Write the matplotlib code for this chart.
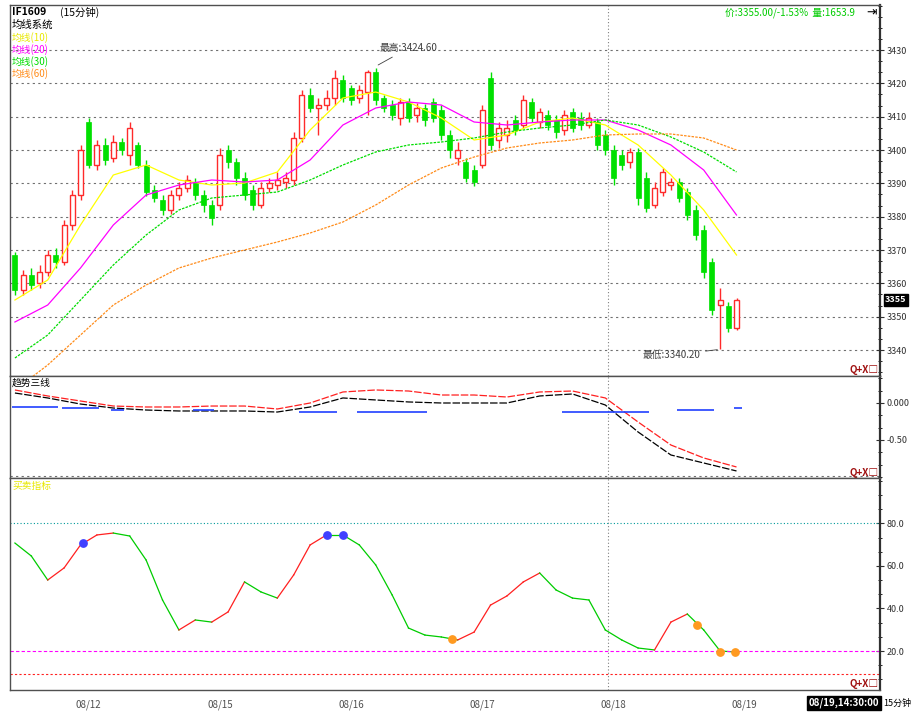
import numpy as np
import matplotlib
matplotlib.use("Agg")
from matplotlib import pyplot as plt
from matplotlib.ticker import AutoMinorLocator
from matplotlib.transforms import blended_transform_factory

plt.rcParams['font.family'] = ['Noto Sans CJK SC', 'DejaVu Sans']

# ---- candles (15 min bars) ----
opens = [3368.5, 3358.0, 3362.5, 3360.1, 3363.4, 3368.5, 3366.4, 3377.5, 3386.5, 3408.4,
         3395.5, 3401.5, 3397.6, 3402.4, 3398.5, 3401.5, 3395.5, 3388.0, 3385.0, 3382.0,
         3386.5, 3388.6, 3390.4, 3386.5, 3383.5, 3383.5, 3400.0, 3396.4, 3391.6, 3388.0,
         3383.5, 3388.6, 3389.5, 3390.4, 3391.0, 3403.6, 3416.5, 3412.6, 3413.5, 3415.6,
         3421.0, 3418.6, 3415.6, 3417.4, 3423.4, 3415.6, 3413.5, 3409.6, 3414.4, 3410.5,
         3412.6, 3414.4, 3412.0, 3404.5, 3397.6, 3396.4, 3394.0, 3395.5, 3421.6, 3403.0,
         3404.5, 3409.0, 3407.5, 3414.4, 3408.4, 3410.5, 3409.0, 3406.0, 3411.4, 3409.6,
         3407.5, 3408.4, 3404.5, 3400.0, 3398.5, 3396.4, 3399.4, 3391.6, 3383.5, 3387.4,
         3389.5, 3390.4, 3387.4, 3382.0, 3376.0, 3366.4, 3353.5, 3353.2, 3346.6]
closes = [3358.0, 3362.5, 3359.5, 3363.4, 3368.5, 3366.4, 3377.5, 3386.5, 3400.0, 3395.5,
          3401.5, 3397.0, 3402.4, 3400.0, 3406.6, 3395.5, 3387.4, 3385.6, 3382.0, 3386.5,
          3388.6, 3391.0, 3386.5, 3383.5, 3379.6, 3398.5, 3396.4, 3391.6, 3386.5, 3383.5,
          3388.6, 3390.1, 3391.0, 3391.6, 3403.6, 3416.5, 3412.6, 3413.5, 3415.6, 3421.6,
          3415.6, 3415.0, 3418.0, 3423.4, 3415.0, 3412.6, 3410.5, 3414.4, 3409.6, 3412.6,
          3409.0, 3409.6, 3404.5, 3400.0, 3400.0, 3391.6, 3390.4, 3412.0, 3401.5, 3406.6,
          3406.6, 3406.0, 3415.0, 3409.6, 3411.4, 3407.5, 3405.4, 3410.5, 3406.6, 3407.5,
          3409.6, 3401.5, 3400.0, 3391.6, 3395.5, 3399.4, 3385.6, 3382.6, 3388.6, 3393.4,
          3390.4, 3385.6, 3380.5, 3374.5, 3363.4, 3352.0, 3355.0, 3346.6, 3355.0]
highs = [3369.4, 3364.0, 3364.6, 3365.5, 3370.0, 3370.6, 3379.0, 3388.0, 3401.5, 3409.6,
         3403.0, 3403.6, 3404.5, 3403.6, 3408.4, 3402.4, 3397.0, 3389.5, 3386.5, 3388.0,
         3390.4, 3392.5, 3391.6, 3388.0, 3385.0, 3400.6, 3401.5, 3397.6, 3393.4, 3389.5,
         3390.4, 3391.6, 3393.4, 3393.4, 3405.4, 3418.0, 3418.6, 3415.6, 3418.0, 3424.0,
         3422.5, 3419.5, 3419.5, 3424.0, 3424.6, 3416.5, 3415.0, 3415.6, 3415.6, 3414.1,
         3413.8, 3415.6, 3413.5, 3406.0, 3402.4, 3397.6, 3395.5, 3413.5, 3423.4, 3408.4,
         3409.0, 3410.5, 3416.5, 3415.6, 3412.6, 3412.0, 3410.5, 3412.0, 3412.6, 3411.4,
         3411.4, 3409.6, 3406.0, 3401.5, 3400.0, 3400.6, 3400.6, 3393.4, 3390.4, 3394.6,
         3391.6, 3391.6, 3388.6, 3383.5, 3377.5, 3367.6, 3358.6, 3354.4, 3355.6]
lows = [3356.5, 3356.5, 3358.0, 3358.6, 3362.2, 3364.6, 3365.5, 3376.0, 3385.0, 3394.6,
        3394.0, 3395.5, 3396.4, 3398.5, 3395.5, 3394.6, 3386.2, 3384.4, 3380.5, 3380.8,
        3385.0, 3387.4, 3385.0, 3381.4, 3377.5, 3382.0, 3394.6, 3389.5, 3385.0, 3382.0,
        3382.6, 3387.4, 3388.0, 3388.6, 3389.5, 3402.4, 3411.4, 3404.5, 3412.0, 3413.5,
        3414.4, 3413.5, 3414.1, 3410.5, 3413.5, 3411.4, 3409.0, 3407.5, 3408.4, 3408.4,
        3407.2, 3408.4, 3403.0, 3397.6, 3395.5, 3390.4, 3389.2, 3394.6, 3400.0, 3400.6,
        3402.4, 3404.5, 3406.6, 3408.4, 3406.6, 3406.0, 3403.6, 3404.5, 3405.4, 3406.0,
        3406.6, 3400.0, 3398.5, 3389.5, 3394.0, 3394.6, 3383.5, 3381.4, 3382.6, 3386.2,
        3388.0, 3384.4, 3379.0, 3373.0, 3361.6, 3350.5, 3340.2, 3345.4, 3346.0]

# moving averages, read every 4 bars
ma_idx = [0, 4, 8, 12, 16, 20, 24, 28, 32, 36, 40, 44, 48, 52, 56, 60, 64, 68, 72, 76, 80, 84, 88]
ma10 = [3355.0, 3361.0, 3377.5, 3392.5, 3395.5, 3391.0, 3389.5, 3390.1, 3393.4, 3406.0, 3415.6, 3417.4,
        3414.4, 3409.6, 3403.0, 3404.5, 3408.4, 3409.6, 3407.5, 3401.5, 3392.5, 3382.0, 3368.5]
ma20 = [3348.4, 3353.5, 3364.6, 3377.5, 3386.5, 3389.5, 3391.0, 3390.4, 3391.0, 3397.0, 3407.5, 3412.6,
        3414.4, 3413.5, 3408.4, 3407.5, 3408.4, 3409.0, 3409.0, 3406.0, 3401.5, 3394.0, 3380.5]
ma30 = [3337.6, 3344.5, 3355.0, 3365.5, 3374.5, 3382.0, 3385.6, 3386.5, 3387.4, 3391.0, 3395.5, 3399.4,
        3401.5, 3402.4, 3403.6, 3405.4, 3406.6, 3407.5, 3409.0, 3407.5, 3403.9, 3399.4, 3393.4]
ma60 = [3328.0, 3335.5, 3344.5, 3353.5, 3359.5, 3364.6, 3367.6, 3370.0, 3372.4, 3375.1, 3378.4, 3383.5,
        3389.5, 3394.6, 3397.9, 3400.6, 3402.1, 3403.0, 3404.5, 3404.8, 3404.8, 3403.6, 3400.0]

# trend panel
trend_red = [0.176, 0.095, 0.027, -0.041, -0.054, -0.054, -0.041, -0.041, -0.081, 0.0, 0.149, 0.176,
             0.162, 0.108, 0.108, 0.081, 0.149, 0.162, 0.068, -0.257, -0.568, -0.743, -0.865]
trend_black = [0.135, 0.068, -0.014, -0.068, -0.095, -0.108, -0.108, -0.108, -0.122, -0.054, 0.068, 0.041,
               0.014, 0.0, 0.0, 0.0, 0.095, 0.122, -0.027, -0.392, -0.703, -0.811, -0.919]
blue_start = [0, 6, 12, 22, 35, 42, 67, 81, 88]
blue_end = [5, 10, 13, 24, 39, 50, 77, 85, 88.4]
blue_val = [-0.054, -0.068, -0.095, -0.095, -0.122, -0.122, -0.122, -0.095, -0.068]

# oscillator panel, every 2 bars
osc_idx = list(range(0, 89, 2))
osc = [70.8, 64.7, 53.4, 59.1, 69.9, 74.6, 75.5, 74.1, 62.8, 44.0, 29.9, 34.6, 33.6, 38.4, 52.5,
       47.8, 44.9, 55.8, 69.9, 74.6, 74.6, 69.9, 60.5, 46.4, 30.8, 27.5, 26.6, 25.2, 28.9, 41.6,
       45.9, 52.5, 56.7, 48.7, 44.9, 44.0, 29.9, 25.2, 21.4, 20.5, 33.6, 37.4, 29.9, 20.0, 19.5]
buy_idx = [8.3, 38, 40]
buy_val = [70.8, 74.6, 74.6]
sell_idx = [53.3, 83.2, 86, 87.8]
sell_val = [25.6, 32.2, 19.5, 19.5]

date_pos = [9, 25, 41, 57, 73, 89]
date_labels = ["08/12", "08/15", "08/16", "08/17", "08/18", "08/19"]
price_ticks = [3430, 3420, 3410, 3400, 3390, 3380, 3370, 3360, 3350, 3340]

UP = '#ff2a2a'
DOWN = '#00e000'
W, H = 919, 715


def box(top, bottom):
    return [10 / W, 1 - bottom / H, 870 / W, (bottom - top) / H]


def fx(x):
    return x / W


def fy(y):
    return 1 - y / H


fig = plt.figure(figsize=(9.19, 7.15), dpi=100)
fig.patch.set_facecolor('white')
ax1 = fig.add_axes(box(5, 376))
ax2 = fig.add_axes(box(376, 478))
ax3 = fig.add_axes(box(478, 690))

for ax in (ax1, ax2, ax3):
    ax.set_xlim(-0.6, 105.5)
    for s in ('left', 'top', 'bottom'):
        ax.spines[s].set_color('#505050')
        ax.spines[s].set_linewidth(1.0)
    ax.spines['right'].set_color('#303030')
    ax.spines['right'].set_linewidth(1.6)
    ax.yaxis.tick_right()
    ax.tick_params(axis='y', direction='inout', length=6, width=0.8, labelsize=6.5, pad=2,
                   colors='#303030')
    ax.tick_params(axis='y', which='minor', direction='inout', length=3, width=0.6)
    ax.yaxis.set_minor_locator(AutoMinorLocator(3))
    ax.axvline(72.3, color='#808080', lw=0.8, ls=(0, (1, 2)))
    ax.text(0.998, 0.004, "Q+X□", transform=ax.transAxes, ha='right', va='bottom',
            fontsize=7, color='#a01010', fontweight='bold')

# ---- main panel ----
x = np.arange(len(closes))
for i in x:
    o, c, h, l = opens[i], closes[i], highs[i], lows[i]
    if c > o:
        ax1.vlines(i, l, h, color=UP, lw=1.0, zorder=2)
        ax1.bar(i, c - o, bottom=o, width=0.62, facecolor='white', edgecolor=UP, lw=1.0, zorder=3)
    elif c < o:
        ax1.vlines(i, l, h, color=DOWN, lw=1.0, zorder=2)
        ax1.bar(i, o - c, bottom=c, width=0.62, facecolor=DOWN, edgecolor=DOWN, lw=0.5, zorder=3)
    else:
        ax1.vlines(i, l, h, color='black', lw=1.0, zorder=2)
        ax1.hlines(c, i - 0.35, i + 0.35, color='black', lw=1.2, zorder=3)

ax1.plot(ma_idx, ma10, color='#ffff00', lw=0.9, zorder=4)
ax1.plot(ma_idx, ma20, color='#ff00ff', lw=0.9, zorder=4)
ax1.plot(ma_idx, ma30, color='#00dd00', lw=0.9, ls=(0, (2, 1)), zorder=4)
ax1.plot(ma_idx, ma60, color='#ff8c1a', lw=0.9, ls=(0, (2, 1)), zorder=4)

ax1.set_ylim(3332.2, 3443.5)
ax1.set_yticks(price_ticks)
ax1.set_yticklabels([str(p) for p in price_ticks])
ax1.set_xticks([])
for p in price_ticks:
    ax1.axhline(p, color='#707070', lw=0.8, ls=(0, (2, 3)), zorder=1)

hi = int(np.argmax(highs))
lo = int(np.argmin(lows))
ax1.annotate("最高:%.2f" % highs[hi], xy=(hi, highs[hi] + 0.5), xytext=(hi + 0.5, highs[hi] + 6),
             fontsize=7, color='#404040', va='center',
             arrowprops=dict(arrowstyle='-', color='#404040', lw=0.6))
ax1.annotate("最低:%.2f" % lows[lo], xy=(lo, lows[lo]), xytext=(lo - 9.5, lows[lo] - 1.8),
             fontsize=7, color='#404040', va='center',
             arrowprops=dict(arrowstyle='-', color='#404040', lw=0.6))

trans = blended_transform_factory(ax1.transAxes, ax1.transData)
ax1.text(1.006, closes[-1], "%d" % closes[-1], transform=trans, fontsize=6.5, color='white',
         fontweight='bold', va='center', ha='left',
         bbox=dict(facecolor='black', edgecolor='black', pad=1.2))

# ---- trend panel ----
ax2.plot(ma_idx, trend_red, color='#ff2020', lw=0.9, ls=(0, (6, 1.5)))
ax2.plot(ma_idx, trend_black, color='black', lw=0.9, ls=(0, (6, 1.5)))
for s, e, v in zip(blue_start, blue_end, blue_val):
    ax2.hlines(v, s - 0.3, e + 0.3, color='#2040ff', lw=1.2)
ax2.set_ylim(-1.014, 0.365)
ax2.set_yticks([0.0, -0.5])
ax2.set_yticklabels(["0.000", "-0.50"])
ax2.set_xticks([])
ax2.axhline(-0.99, color='#707070', lw=0.8, ls=(0, (2, 3)))

# ---- oscillator panel ----
for k in range(len(osc) - 1):
    col = '#ff2020' if osc[k + 1] > osc[k] else '#00cc00'
    ax3.plot(osc_idx[k:k + 2], osc[k:k + 2], color=col, lw=0.9)
ax3.scatter(buy_idx, buy_val, s=28, color='#4040ff', zorder=5)
ax3.scatter(sell_idx, sell_val, s=28, color='#ff9a20', zorder=5)
ax3.axhline(80, color='#009999', lw=0.8, ls=(0, (1, 2)))
ax3.axhline(20, color='#ff00ff', lw=0.8, ls=(0, (3, 2)))
ax3.axhline(9, color='#ff2020', lw=0.8, ls=(0, (2, 2)))
ax3.set_ylim(1.65, 101.4)
ax3.set_yticks([80, 60, 40, 20])
ax3.set_yticklabels(["80.0", "60.0", "40.0", "20.0"])
ax3.set_xticks(date_pos)
ax3.set_xticklabels(date_labels, fontsize=7, color='#505050')
ax3.tick_params(axis='x', length=0, pad=7)

# ---- header texts ----
fig.text(fx(12), fy(12), "IF1609", fontsize=7.5, color='black', va='center', fontweight='bold')
fig.text(fx(60), fy(12), "(15分钟)", fontsize=7.5, color='black', va='center')
fig.text(fx(12), fy(25), "均线系统", fontsize=7.5, color='black', va='center')
legend_names = ["均线(10)", "均线(20)", "均线(30)", "均线(60)"]
legend_colors = ['#e8e800', '#ff00ff', '#00dd00', '#ff8c1a']
for k, (nm, cl) in enumerate(zip(legend_names, legend_colors)):
    fig.text(fx(12), fy(38 + 12 * k), nm, fontsize=7, color=cl, va='center')
fig.text(fx(12), fy(383), "趋势三线", fontsize=7, color='black', va='center')
fig.text(fx(12), fy(486), "买卖指标", fontsize=7, color='#e8e800', va='center')

fig.text(fx(855), fy(13), "价:%.2f/-1.53%%  量:1653.9" % closes[-1], fontsize=7,
         color='#00cc00', ha='right', va='center')
fig.text(fx(872), fy(12), "⇥", fontsize=9, color='black', ha='center', va='center')

fig.text(fx(844), fy(703), "08/19,14:30:00", fontsize=7, color='white', fontweight='bold',
         ha='center', va='center', bbox=dict(facecolor='black', edgecolor='black', pad=1.0))
fig.text(fx(883), fy(703), "15分钟", fontsize=6.5, color='black', ha='left', va='center')

fig.savefig("out.png", dpi=100, facecolor='white')
